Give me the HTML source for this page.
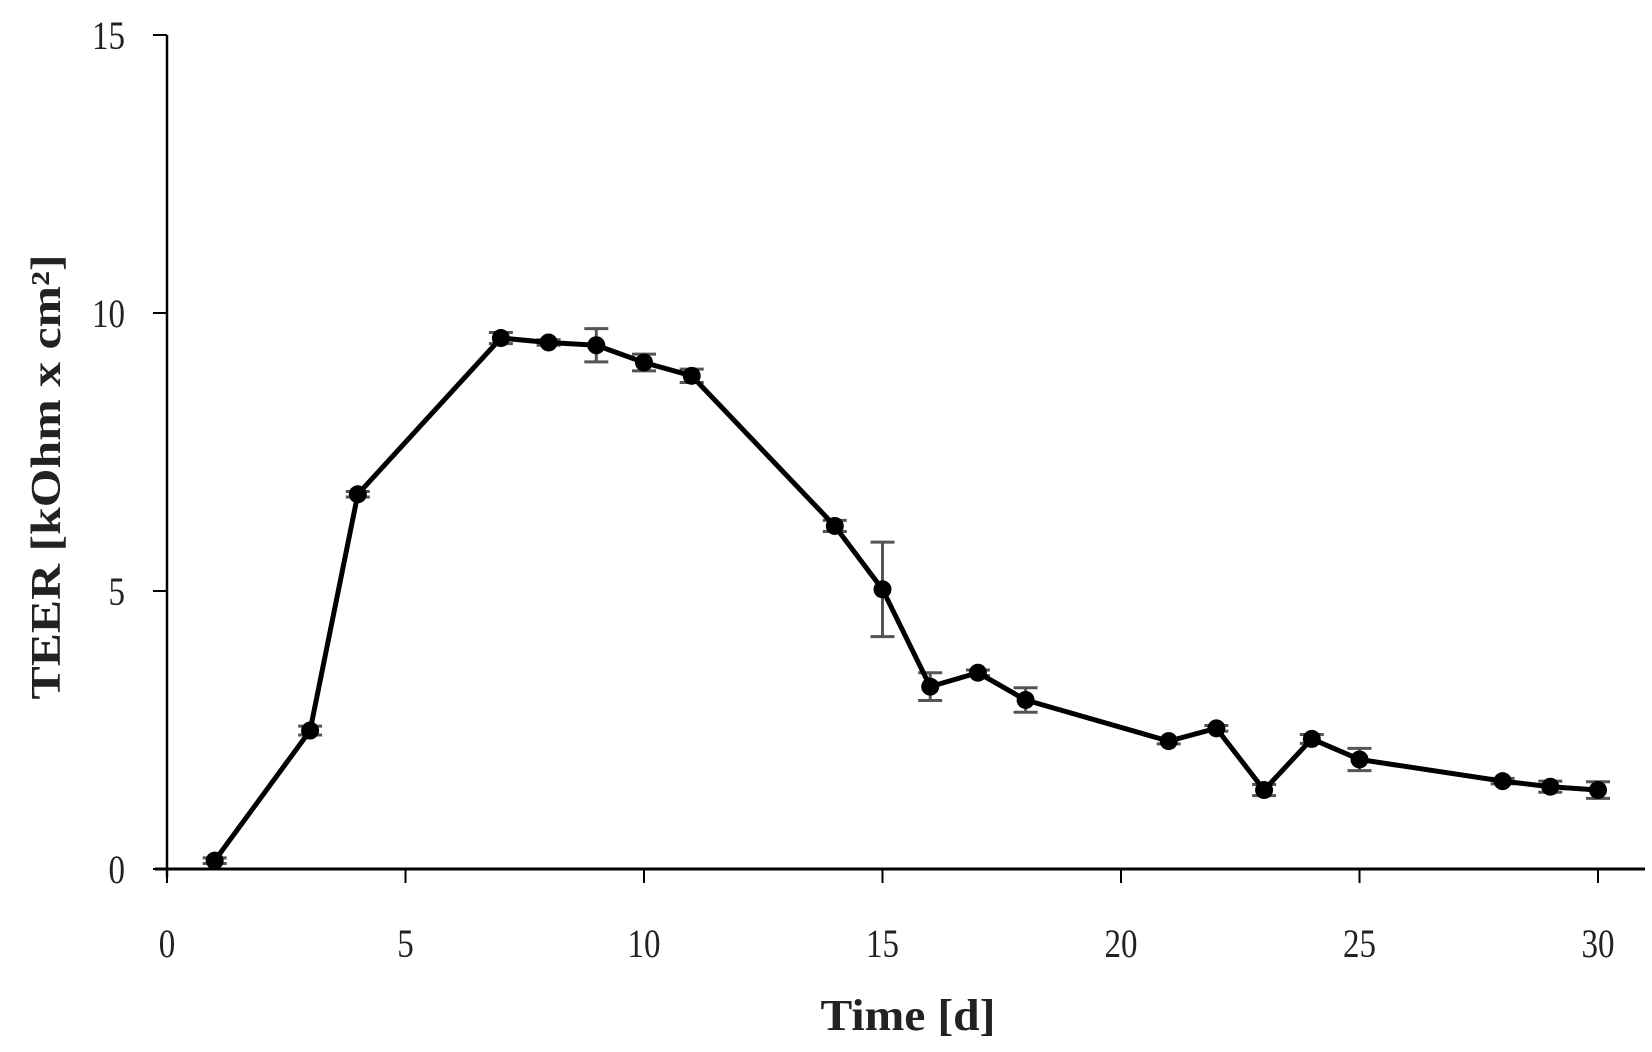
<!DOCTYPE html>
<html><head><meta charset="utf-8"><style>
html,body{margin:0;padding:0;background:#fff;}
svg{display:block;}
text{font-family:"Liberation Serif",serif;}
</style></head><body>
<svg id="chart" width="1652" height="1052" viewBox="0 0 1652 1052">
<g id="axes"></g>
<g id="errs"></g>
<g id="series"></g>
<text x="908" y="1030" text-anchor="middle" font-size="44" font-weight="bold" fill="#222" textLength="175" lengthAdjust="spacingAndGlyphs">Time [d]</text>
<text transform="translate(60,477) rotate(-90)" text-anchor="middle" font-size="42" font-weight="bold" fill="#222" textLength="445" lengthAdjust="spacingAndGlyphs">TEER [kOhm x cm²]</text>
</svg>
<script>
const days = [1,3,4,7,8,9,10,11,14,15,16,17,18,21,22,23,24,25,28,29,30];
const teer = [0.15,2.49,6.74,9.55,9.47,9.42,9.11,8.87,6.17,5.03,3.28,3.53,3.04,2.30,2.53,1.42,2.34,1.97,1.58,1.48,1.42];
const errs = [0.05,0.08,0.05,0.1,0.05,0.3,0.15,0.12,0.1,0.85,0.25,0.05,0.22,0.05,0.05,0.1,0.08,0.2,0.05,0.1,0.15];
const xTicks = [0,5,10,15,20,25,30];
const yTicks = [0,5,10,15];
const NS='http://www.w3.org/2000/svg';
const X0=167,X1=1598,Y0=869,Y1=35;
function sx(v){return X0+(v-0)/30*(X1-X0);}
function sy(v){return Y0-(v-0)/15*(Y0-Y1);}
function mk(tag,attrs,parent){const e=document.createElementNS(NS,tag);for(const k in attrs)e.setAttribute(k,attrs[k]);parent.appendChild(e);return e;}
const axes=document.getElementById('axes');
let l=mk('line',{x1:X0,y1:Y1,x2:X0,y2:Y0+8,stroke:'#000','stroke-width':2.5},axes);


l=mk('line',{x1:X0-12,y1:Y0,x2:1645,y2:Y0,stroke:'#000','stroke-width':3},axes);


xTicks.forEach(t=>{
  const tk=mk('line',{x1:sx(t),y1:Y0,x2:sx(t),y2:Y0+14,stroke:'#000','stroke-width':2},axes);
  
  
  const s=String(t);
  const tx=mk('text',{x:sx(t),y:Y0+88,'text-anchor':'middle','font-size':40,fill:'#222',textLength:16.5*s.length,lengthAdjust:'spacingAndGlyphs'},axes);
  tx.textContent=s;
  
  
});
yTicks.forEach(t=>{
  const tk=mk('line',{x1:X0-14,y1:sy(t),x2:X0,y2:sy(t),stroke:'#000','stroke-width':2},axes);
  
  
  const s=String(t);
  const tx=mk('text',{x:X0-42,y:sy(t)+14,'text-anchor':'end','font-size':40,fill:'#222',textLength:16.5*s.length,lengthAdjust:'spacingAndGlyphs'},axes);
  tx.textContent=s;
  
  
});
const eg=document.getElementById('errs');
days.forEach((d,i)=>{
  const x=sx(d),a=sy(teer[i]+errs[i]),b=sy(teer[i]-errs[i]);
  const g=mk('g',{stroke:'#555','stroke-width':3},eg);
  
  
  mk('line',{x1:x,y1:a,x2:x,y2:b},g);
  mk('line',{x1:x-12,y1:a,x2:x+12,y2:a},g);
  mk('line',{x1:x-12,y1:b,x2:x+12,y2:b},g);
});
const sg=document.getElementById('series');
const p=mk('polyline',{points:days.map((d,i)=>sx(d)+','+sy(teer[i])).join(' '),fill:'none',stroke:'#000','stroke-width':5,'stroke-linejoin':'round'},sg);


days.forEach((d,i)=>{
  const c=mk('circle',{cx:sx(d),cy:sy(teer[i]),r:9,fill:'#000'},sg);
  
  
});
</script>
</body></html>
